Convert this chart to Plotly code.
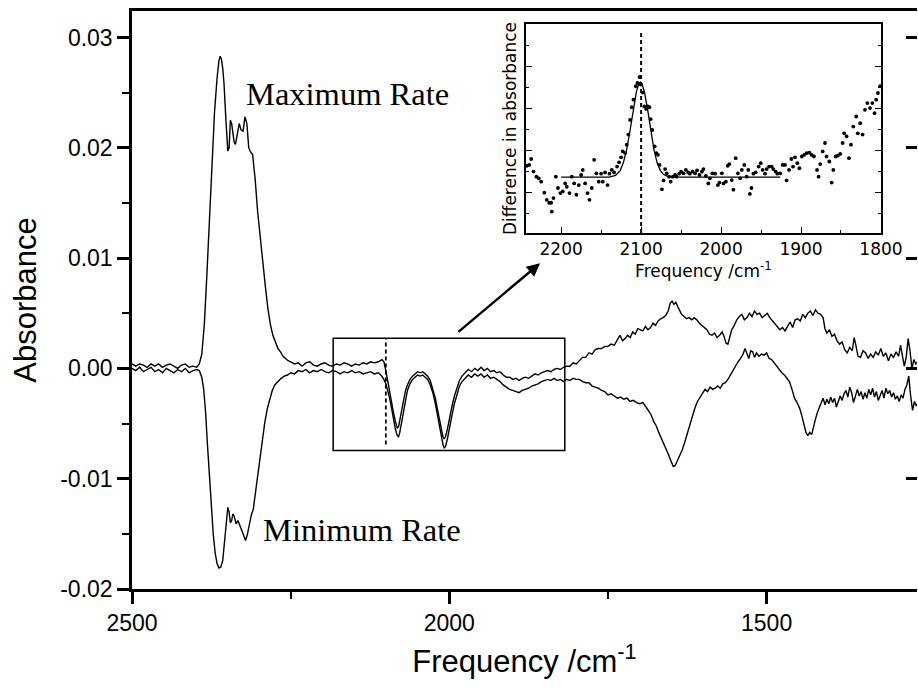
import plotly.graph_objects as go

# ---------------- main spectra ----------------
max_freq = [2500, 2494, 2488, 2482, 2476, 2470, 2464, 2458, 2452, 2446, 2440, 2434, 2428, 2422, 2416, 2410, 2404, 2398, 2394,
            2390, 2386, 2382, 2378, 2374, 2370, 2366, 2363, 2361, 2359, 2357, 2355, 2352, 2349, 2347, 2345, 2343, 2341, 2339,
            2337, 2334, 2331, 2328, 2325, 2322, 2319, 2316, 2313, 2310, 2306, 2302, 2298, 2294, 2290, 2286, 2282, 2278, 2274,
            2270, 2266, 2262, 2258, 2254, 2250, 2244, 2238, 2232, 2226, 2220, 2214, 2208, 2202, 2196, 2190, 2184, 2178, 2172,
            2166, 2160, 2154, 2148, 2142, 2136, 2130, 2124, 2118, 2112, 2106, 2103, 2100, 2097, 2094, 2091, 2088, 2085, 2082,
            2080, 2078, 2075, 2072, 2069, 2066, 2062, 2058, 2054, 2050, 2046, 2042, 2038, 2034, 2030, 2026, 2022, 2019, 2016,
            2013, 2010, 2008, 2006, 2003, 2000, 1996, 1992, 1988, 1984, 1980, 1975, 1970, 1965, 1960, 1955, 1950, 1945, 1940,
            1935, 1930, 1925, 1920, 1915, 1910, 1905, 1900, 1895, 1890, 1885, 1880, 1875, 1870, 1865, 1860, 1855, 1850, 1845,
            1840, 1835, 1830, 1825, 1820, 1815, 1810, 1805, 1800, 1795, 1790, 1785, 1780, 1775, 1770, 1765, 1760, 1755, 1750,
            1745, 1740, 1735, 1731, 1727, 1723, 1719, 1715, 1711, 1707, 1703, 1699, 1695, 1691, 1687, 1683, 1679, 1675, 1671,
            1667, 1663, 1659, 1655, 1652, 1649, 1646, 1643, 1640, 1637, 1634, 1630, 1626, 1622, 1618, 1614, 1610, 1606, 1602,
            1598, 1594, 1590, 1586, 1582, 1578, 1574, 1570, 1567, 1564, 1561, 1558, 1555, 1551, 1547, 1543, 1539, 1535, 1531,
            1527, 1523, 1519, 1515, 1511, 1507, 1503, 1499, 1495, 1491, 1487, 1483, 1479, 1475, 1471, 1467, 1463, 1459, 1455,
            1451, 1447, 1443, 1439, 1435, 1431, 1427, 1423, 1419, 1415, 1411, 1408, 1405, 1401, 1397, 1393, 1389, 1385, 1381,
            1377, 1373, 1369, 1365, 1362, 1359, 1356, 1352, 1348, 1344, 1340, 1336, 1332, 1328, 1324, 1320, 1316, 1312, 1308,
            1304, 1300, 1296, 1292, 1289, 1286, 1283, 1280, 1277, 1274, 1271, 1268, 1265, 1262]
max_abs = [0.0004, 0.0002, 0.0004, 0.0003, 0.0001, 0.0004, 0.0002, 0.0004, 0.0001, 0.0003, 0.0004, 0.0002, 0.0000, 0.0003,
           0.0004, 0.0001, 0.0002, 0.0001, 0.0004, 0.0013, 0.0040, 0.0085, 0.0135, 0.0185, 0.0232, 0.0263, 0.0279, 0.0283,
           0.0280, 0.0272, 0.0258, 0.0225, 0.0197, 0.0200, 0.0225, 0.0222, 0.0210, 0.0205, 0.0203, 0.0212, 0.0222, 0.0216,
           0.0215, 0.0228, 0.0222, 0.0200, 0.0196, 0.0194, 0.0172, 0.0142, 0.0118, 0.0097, 0.0075, 0.0055, 0.0040, 0.0030,
           0.0023, 0.0018, 0.0015, 0.0011, 0.0009, 0.0007, 0.0006, 0.0004, 0.0005, 0.0002, 0.0005, 0.0006, 0.0003, 0.0002,
           0.0004, 0.0005, 0.0003, 0.0002, 0.0004, 0.0003, 0.0005, 0.0004, 0.0002, 0.0004, 0.0003, 0.0005, 0.0004, 0.0006,
           0.0005, 0.0006, 0.0008, 0.0006, -0.0002, -0.0012, -0.0020, -0.0029, -0.0040, -0.0048, -0.0054, -0.0053, -0.0047,
           -0.0037, -0.0028, -0.0020, -0.0015, -0.0010, -0.0007, -0.0005, -0.0003, -0.0004, -0.0003, -0.0005, -0.0007,
           -0.0011, -0.0018, -0.0027, -0.0036, -0.0046, -0.0055, -0.0062, -0.0064, -0.0062, -0.0055, -0.0045, -0.0035,
           -0.0025, -0.0017, -0.0011, -0.0007, -0.0004, -0.0001, -0.0003, 0.0000, -0.0002, 0.0001, -0.0002, 0.0000, -0.0003,
           -0.0002, -0.0004, -0.0003, -0.0006, -0.0008, -0.0008, -0.0010, -0.0009, -0.0011, -0.0009, -0.0008, -0.0009,
           -0.0007, -0.0005, -0.0006, -0.0004, -0.0003, -0.0002, -0.0003, -0.0001, 0.0000, -0.0001, 0.0001, 0.0002, 0.0002,
           0.0005, 0.0004, 0.0007, 0.0010, 0.0010, 0.0014, 0.0013, 0.0017, 0.0018, 0.0018, 0.0020, 0.0020, 0.0022, 0.0021,
           0.0026, 0.0030, 0.0025, 0.0027, 0.0030, 0.0028, 0.0033, 0.0031, 0.0036, 0.0035, 0.0034, 0.0038, 0.0035, 0.0037,
           0.0041, 0.0039, 0.0043, 0.0045, 0.0046, 0.0048, 0.0052, 0.0059, 0.0061, 0.0058, 0.0060, 0.0056, 0.0052, 0.0049,
           0.0047, 0.0045, 0.0046, 0.0044, 0.0046, 0.0044, 0.0041, 0.0039, 0.0037, 0.0035, 0.0031, 0.0030, 0.0032, 0.0028,
           0.0030, 0.0033, 0.0029, 0.0023, 0.0022, 0.0030, 0.0035, 0.0039, 0.0044, 0.0047, 0.0049, 0.0044, 0.0046, 0.0050,
           0.0047, 0.0052, 0.0049, 0.0050, 0.0046, 0.0048, 0.0050, 0.0046, 0.0043, 0.0041, 0.0038, 0.0035, 0.0037, 0.0034,
           0.0038, 0.0042, 0.0037, 0.0044, 0.0045, 0.0043, 0.0049, 0.0046, 0.0050, 0.0052, 0.0048, 0.0053, 0.0050, 0.0049,
           0.0046, 0.0036, 0.0032, 0.0035, 0.0029, 0.0031, 0.0025, 0.0022, 0.0024, 0.0017, 0.0014, 0.0019, 0.0016, 0.0028,
           0.0020, 0.0011, 0.0010, 0.0016, 0.0014, 0.0009, 0.0013, 0.0010, 0.0015, 0.0012, 0.0018, 0.0011, 0.0014, 0.0007,
           0.0013, 0.0010, 0.0015, 0.0011, 0.0021, 0.0012, 0.0002, 0.0010, 0.0027, 0.0016, 0.0000, 0.0008, 0.0004, 0.0006]

min_freq = [2500, 2494, 2488, 2482, 2476, 2470, 2464, 2458, 2452, 2446, 2440, 2434, 2428, 2422, 2416, 2410, 2404, 2398, 2394,
            2390, 2387, 2384, 2381, 2378, 2375, 2372, 2369, 2366, 2363, 2360, 2357, 2354, 2351, 2349, 2347, 2345, 2343, 2341,
            2339, 2336, 2333, 2330, 2327, 2324, 2321, 2318, 2315, 2312, 2309, 2306, 2303, 2299, 2295, 2291, 2287, 2283, 2279,
            2275, 2270, 2265, 2260, 2255, 2250, 2244, 2238, 2232, 2226, 2220, 2214, 2208, 2202, 2196, 2190, 2184, 2178, 2172,
            2166, 2160, 2154, 2148, 2142, 2136, 2130, 2124, 2118, 2112, 2108, 2104, 2100, 2097, 2094, 2091, 2088, 2085, 2082,
            2080, 2078, 2075, 2072, 2069, 2066, 2062, 2058, 2054, 2050, 2046, 2042, 2038, 2034, 2030, 2026, 2022, 2019, 2016,
            2013, 2010, 2008, 2006, 2003, 2000, 1996, 1992, 1988, 1984, 1980, 1975, 1970, 1965, 1960, 1955, 1950, 1945, 1940,
            1935, 1930, 1925, 1920, 1915, 1910, 1905, 1900, 1895, 1890, 1885, 1880, 1875, 1870, 1865, 1860, 1855, 1850, 1845,
            1840, 1835, 1830, 1825, 1820, 1815, 1810, 1805, 1800, 1795, 1790, 1785, 1780, 1775, 1770, 1765, 1760, 1755, 1750,
            1745, 1740, 1735, 1730, 1725, 1720, 1715, 1710, 1705, 1700, 1695, 1690, 1686, 1682, 1678, 1674, 1670, 1666, 1662,
            1658, 1654, 1650, 1647, 1644, 1641, 1637, 1633, 1629, 1625, 1621, 1617, 1613, 1609, 1605, 1601, 1597, 1593, 1589,
            1585, 1581, 1577, 1573, 1569, 1565, 1561, 1557, 1553, 1549, 1545, 1541, 1537, 1534, 1531, 1528, 1525, 1522, 1519,
            1516, 1512, 1508, 1504, 1500, 1496, 1492, 1488, 1484, 1480, 1476, 1472, 1468, 1464, 1460, 1456, 1452, 1448, 1444,
            1441, 1438, 1435, 1432, 1429, 1426, 1423, 1420, 1417, 1414, 1411, 1408, 1405, 1402, 1399, 1396, 1393, 1390, 1387,
            1384, 1381, 1378, 1375, 1372, 1369, 1366, 1363, 1360, 1357, 1354, 1351, 1348, 1345, 1342, 1339, 1336, 1333, 1330,
            1327, 1324, 1321, 1318, 1315, 1312, 1309, 1306, 1303, 1300, 1297, 1294, 1291, 1288, 1285, 1282, 1279, 1276, 1273,
            1270, 1267, 1264, 1262]
min_abs = [0.0000, -0.0002, 0.0001, -0.0003, -0.0001, 0.0001, -0.0003, -0.0001, -0.0004, 0.0000, -0.0002, -0.0004, -0.0001,
           -0.0003, 0.0000, -0.0004, -0.0002, -0.0001, -0.0002, -0.0008, -0.0019, -0.0040, -0.0070, -0.0100, -0.0128,
           -0.0150, -0.0167, -0.0177, -0.0181, -0.0180, -0.0174, -0.0158, -0.0136, -0.0126, -0.0130, -0.0140, -0.0138,
           -0.0132, -0.0134, -0.0141, -0.0138, -0.0143, -0.0148, -0.0151, -0.0156, -0.0150, -0.0141, -0.0133, -0.0128,
           -0.0115, -0.0098, -0.0080, -0.0064, -0.0050, -0.0037, -0.0027, -0.0020, -0.0015, -0.0012, -0.0009, -0.0007,
           -0.0006, -0.0004, -0.0005, -0.0002, -0.0003, -0.0001, -0.0004, -0.0002, -0.0003, -0.0001, -0.0003, -0.0004,
           -0.0002, -0.0003, -0.0005, -0.0003, -0.0004, -0.0002, -0.0004, -0.0003, -0.0005, -0.0004, -0.0003, -0.0005,
           -0.0004, -0.0006, -0.0009, -0.0014, -0.0020, -0.0027, -0.0036, -0.0046, -0.0055, -0.0061, -0.0062, -0.0058,
           -0.0048, -0.0037, -0.0028, -0.0020, -0.0014, -0.0010, -0.0008, -0.0006, -0.0007, -0.0006, -0.0008, -0.0010,
           -0.0015, -0.0022, -0.0032, -0.0041, -0.0052, -0.0061, -0.0069, -0.0072, -0.0071, -0.0064, -0.0054, -0.0043,
           -0.0032, -0.0023, -0.0016, -0.0012, -0.0009, -0.0006, -0.0008, -0.0005, -0.0007, -0.0005, -0.0008, -0.0006,
           -0.0009, -0.0008, -0.0010, -0.0012, -0.0015, -0.0017, -0.0019, -0.0020, -0.0021, -0.0022, -0.0020, -0.0019,
           -0.0018, -0.0016, -0.0015, -0.0014, -0.0012, -0.0011, -0.0010, -0.0011, -0.0009, -0.0011, -0.0010, -0.0012,
           -0.0010, -0.0011, -0.0009, -0.0010, -0.0010, -0.0012, -0.0013, -0.0013, -0.0016, -0.0017, -0.0018, -0.0020,
           -0.0021, -0.0024, -0.0023, -0.0025, -0.0027, -0.0026, -0.0028, -0.0027, -0.0030, -0.0029, -0.0031, -0.0032,
           -0.0031, -0.0035, -0.0039, -0.0042, -0.0048, -0.0052, -0.0058, -0.0063, -0.0068, -0.0074, -0.0079, -0.0085,
           -0.0089, -0.0088, -0.0084, -0.0080, -0.0074, -0.0067, -0.0059, -0.0051, -0.0043, -0.0036, -0.0030, -0.0026,
           -0.0022, -0.0019, -0.0021, -0.0017, -0.0019, -0.0018, -0.0016, -0.0018, -0.0014, -0.0013, -0.0010, -0.0006,
           -0.0001, 0.0003, 0.0006, 0.0009, 0.0013, 0.0018, 0.0014, 0.0009, 0.0016, 0.0015, 0.0010, 0.0014, 0.0011, 0.0013,
           0.0012, 0.0014, 0.0009, 0.0008, 0.0005, 0.0002, -0.0002, -0.0004, -0.0006, -0.0009, -0.0012, -0.0019, -0.0027,
           -0.0031, -0.0036, -0.0044, -0.0052, -0.0058, -0.0061, -0.0058, -0.0060, -0.0052, -0.0046, -0.0040, -0.0035,
           -0.0030, -0.0027, -0.0033, -0.0028, -0.0032, -0.0026, -0.0031, -0.0027, -0.0035, -0.0030, -0.0025, -0.0029,
           -0.0023, -0.0020, -0.0026, -0.0017, -0.0022, -0.0031, -0.0024, -0.0019, -0.0025, -0.0021, -0.0028, -0.0022,
           -0.0027, -0.0019, -0.0024, -0.0018, -0.0026, -0.0021, -0.0029, -0.0024, -0.0020, -0.0027, -0.0018, -0.0023,
           -0.0020, -0.0026, -0.0022, -0.0028, -0.0025, -0.0030, -0.0024, -0.0027, -0.0019, -0.0015, -0.0007, -0.0025,
           -0.0038, -0.0030, -0.0034, -0.0032]

# ---------------- inset: difference spectrum (arbitrary units) ----------------
inset_freq = [2243, 2240, 2237.5, 2234.6, 2231, 2228, 2225, 2221, 2218, 2215, 2212.5, 2211.7, 2209.6, 2206.7, 2204, 2201,
              2198, 2195, 2193, 2189.6, 2186.7, 2183.8, 2181, 2178, 2175, 2173, 2170, 2167, 2164.6, 2161.7, 2158.8, 2156,
              2153, 2150, 2148, 2145, 2142, 2139.6, 2136.7, 2133.8, 2130, 2127.5, 2125, 2123, 2120, 2118, 2116, 2113.8,
              2111.7, 2109.6, 2106.7, 2104.6, 2102, 2100.4, 2098, 2096, 2093.8, 2091.7, 2089.6, 2088, 2086, 2083, 2081,
              2079, 2077, 2074, 2072, 2070, 2068, 2065, 2063, 2060.4, 2057.5, 2055.6, 2052.5, 2050, 2047, 2044, 2041, 2039,
              2035.6, 2032.5, 2030, 2027, 2024, 2022, 2019, 2016, 2014, 2011, 2007.5, 2004, 2002, 1999, 1997, 1994,
              1991.7, 1989.6, 1986.7, 1984.6, 1981.7, 1979, 1976, 1974, 1971, 1968, 1966, 1964, 1962, 1959.6, 1956.7,
              1953, 1950.4, 1948, 1945, 1943, 1940, 1936.7, 1934.6, 1931.7, 1929.6, 1926, 1923, 1920, 1918, 1915, 1912,
              1910, 1907.5, 1904.6, 1902, 1899, 1896, 1893, 1889.6, 1886.7, 1883.8, 1880, 1878, 1876, 1872.9, 1870, 1868,
              1864.6, 1861.7, 1859.6, 1856.7, 1854, 1851, 1848, 1846, 1843, 1840, 1837.5, 1834.6, 1831, 1829, 1826, 1823,
              1820, 1817, 1813.7, 1810.8, 1808, 1806, 1803.8, 1801]
inset_diff = [0.63, 0.65, 0.79, 0.49, 0.37, 0.33, 0.25, -0.01, -0.18, -0.25, -0.25, -0.46, -0.14, 0.37, 0.10, -0.02,
              0.02, 0.21, 0.13, -0.02, 0.37, 0.21, -0.06, 0.17, 0.41, 0.53, 0.21, -0.02, -0.18, 0.10, 0.77, 0.45,
              0.25, 0.44, 0.25, 0.47, 0.17, 0.44, 0.53, 0.47, 0.61, 0.71, 0.83, 0.97, 0.93, 1.13, 1.37, 1.72,
              2.02, 2.20, 2.52, 2.60, 2.74, 2.56, 2.37, 2.04, 1.98, 2.04, 2.02, 1.74, 1.48, 1.09, 0.93,
              0.89, 0.65, 0.07, 0.28, 0.55, 0.45, 0.37, 0.25, 0.37, 0.41, 0.37, 0.44, 0.49, 0.45, 0.53, 0.47, 0.44,
              0.49, 0.45, 0.52, 0.41, 0.49, 0.55, 0.39, 0.21, 0.33, 0.45, 0.44, 0.17, 0.23, 0.45, 0.21, 0.25,
              0.63, 0.67, 0.29, 0.06, 0.81, 0.45, 0.33, 0.53, 0.65, 0.37, 0.53, -0.04, 0.10, 0.44, 0.47,
              0.61, 0.69, 0.53, 0.44, 0.55, 0.61, 0.61, 0.55, 0.49, 0.44, 0.45, 0.65, 0.65, 0.28, 0.53, 0.79,
              0.61, 0.83, 0.69, 0.57, 0.85, 0.89, 0.93, 0.94, 0.89, 0.85, 0.53, 0.37, 0.67, 0.97, 1.17, 0.85,
              0.73, 0.23, 0.53, 0.85, 0.87, 0.91, 1.17, 1.40, 1.33, 0.81, 1.13, 1.56, 1.80, 1.40, 1.64, 1.37,
              1.96, 2.12, 2.00, 2.12, 1.88, 2.20, 2.36, 2.52]

fit_freq = [2200, 2140, 2132, 2126, 2122, 2118, 2114, 2110, 2106, 2103, 2101, 2099, 2096, 2092, 2088, 2084, 2080, 2076,
            2072, 2066, 2060, 1926]
fit_diff = [0.36, 0.36, 0.40, 0.52, 0.72, 1.02, 1.45, 1.95, 2.38, 2.58, 2.62, 2.58, 2.40, 1.98, 1.48, 1.02, 0.70, 0.52,
            0.42, 0.37, 0.36, 0.36]

# reference markers / zoom box (data units)
co_freq = 2100
box_freq = [2183, 1818]
box_abs = [-0.00745, 0.00273]
main_dash_abs = [-0.0069, 0.0027]
inset_dash_diff = [-0.97, 3.85]
arrow_tail = (1988, 0.0032)
arrow_tip = (1857, 0.00953)

x_range = [2500, 1263]
y_range = [-0.02, 0.0324]
y_tickvals = [-0.02, -0.01, 0.0, 0.01, 0.02, 0.03]
y_ticktext = ["-0.02", "-0.01", "0.00", "0.01", "0.02", "0.03"]
inset_x_range = [2244, 1800]
inset_y_range = [-0.97, 4.0]

# ---------------- figure ----------------
fig = go.Figure()
line_style = dict(color="black", width=1.4)
fig.add_trace(go.Scatter(x=max_freq, y=max_abs, mode="lines", line=line_style, name="Maximum Rate",
                         xaxis="x", yaxis="y", hoverinfo="skip"))
fig.add_trace(go.Scatter(x=min_freq, y=min_abs, mode="lines", line=line_style, name="Minimum Rate",
                         xaxis="x", yaxis="y", hoverinfo="skip"))
fig.add_trace(go.Scatter(x=[co_freq, co_freq], y=main_dash_abs, mode="lines",
                         line=dict(color="black", width=1.8, dash="4px,3px"), xaxis="x", yaxis="y", hoverinfo="skip"))
# invisible trace to realize right-hand mirror tick axis
fig.add_trace(go.Scatter(x=[max_freq[0]], y=[max_abs[0]], mode="markers", marker=dict(opacity=0),
                         xaxis="x", yaxis="y2", hoverinfo="skip"))

# inset
fig.add_trace(go.Scatter(x=inset_freq, y=inset_diff, mode="markers", marker=dict(color="black", size=3.8),
                         xaxis="x3", yaxis="y3", hoverinfo="skip"))
fig.add_trace(go.Scatter(x=fit_freq, y=fit_diff, mode="lines", line=dict(color="black", width=1.3),
                         xaxis="x3", yaxis="y3", hoverinfo="skip"))
fig.add_trace(go.Scatter(x=[co_freq, co_freq], y=inset_dash_diff, mode="lines",
                         line=dict(color="black", width=2, dash="4px,3px"), xaxis="x3", yaxis="y3", hoverinfo="skip"))

fig.add_shape(type="rect", xref="x", yref="y", x0=box_freq[0], x1=box_freq[1], y0=box_abs[0], y1=box_abs[1],
              line=dict(color="black", width=1.5))

fig.add_annotation(x=arrow_tip[0], y=arrow_tip[1], ax=arrow_tail[0], ay=arrow_tail[1], xref="x", yref="y",
                   axref="x", ayref="y", text="", showarrow=True, arrowhead=2, arrowsize=1.1, arrowwidth=2.4,
                   arrowcolor="black")
serif = dict(family="Liberation Serif, Times New Roman, serif", size=32.5, color="black")
fig.add_annotation(x=2324, y=0.0249, xref="x", yref="y", text="Maximum Rate", showarrow=False,
                   xanchor="left", yanchor="middle", font=serif)
fig.add_annotation(x=2297, y=-0.01465, xref="x", yref="y", text="Minimum Rate", showarrow=False,
                   xanchor="left", yanchor="middle", font=serif)

sans = "Liberation Sans, Arial, sans-serif"
inset_font = "DejaVu Sans, sans-serif"
fig.update_layout(
    width=918, height=688,
    margin=dict(l=132, r=1, t=11, b=99, autoexpand=False),
    paper_bgcolor="white", plot_bgcolor="white",
    showlegend=False,
    xaxis=dict(range=x_range, domain=[0, 1], anchor="y", showgrid=False, zeroline=False, automargin=False,
               showline=True, linewidth=2.5, linecolor="black", mirror=True,
               ticks="outside", ticklen=12, tickwidth=2.5, tickcolor="black",
               tick0=0, dtick=500, tickformat="d",
               minor=dict(ticks="outside", ticklen=7, tickwidth=2, dtick=250, tick0=0, tickcolor="black"),
               tickfont=dict(family=sans, size=23, color="black"),
               title=dict(text="Frequency /cm<sup>-1</sup>", font=dict(family=sans, size=31, color="black"))),
    yaxis=dict(range=y_range, domain=[0, 1], anchor="x", showgrid=False, zeroline=False, automargin=False,
               showline=True, linewidth=2.5, linecolor="black", mirror=False,
               ticks="outside", ticklen=12, tickwidth=2.5, tickcolor="black",
               tickmode="array", tickvals=y_tickvals, ticktext=y_ticktext,
               minor=dict(ticks="outside", ticklen=7, tickwidth=2, dtick=0.005, tick0=0, tickcolor="black"),
               tickfont=dict(family=sans, size=23, color="black"),
               title=dict(text="Absorbance", font=dict(family=sans, size=31, color="black"))),
    yaxis2=dict(range=y_range, overlaying="y", side="right", anchor="x", showgrid=False, zeroline=False,
                automargin=False, showline=False, ticks="inside", ticklen=11, tickwidth=2.5, tickcolor="black",
                tickmode="array", tickvals=y_tickvals, showticklabels=False),
    xaxis3=dict(range=inset_x_range, domain=[0.5019, 0.9541], anchor="y3", showgrid=False, zeroline=False,
                automargin=True, showline=True, linewidth=1.5, linecolor="black", mirror=True,
                ticks="inside", ticklen=6, tickwidth=1.2, tickcolor="black", tick0=0, dtick=100,
                minor=dict(ticks="inside", ticklen=3, tickwidth=1, dtick=50, tick0=0, tickcolor="black"),
                tickfont=dict(family=inset_font, size=17, color="black"),
                title=dict(text="Frequency /cm<sup>-1</sup>", font=dict(family=inset_font, size=17, color="black"),
                           standoff=2)),
    yaxis3=dict(range=inset_y_range, domain=[0.6159, 0.9775], anchor="x3", showgrid=False, zeroline=False,
                automargin=True, showline=True, linewidth=1.5, linecolor="black", mirror="ticks",
                ticks="inside", ticklen=6, tickwidth=1.2, tickcolor="black", tick0=0, dtick=1,
                minor=dict(ticks="inside", ticklen=3, tickwidth=1, dtick=0.5, tick0=0, tickcolor="black"),
                showticklabels=False,
                title=dict(text="Difference in absorbance", font=dict(family=inset_font, size=17, color="black"),
                           standoff=3)),
)

fig.write_html("out.html", config={"displayModeBar": False},
               post_script="document.body.style.margin='0';document.body.style.overflow='hidden';")
